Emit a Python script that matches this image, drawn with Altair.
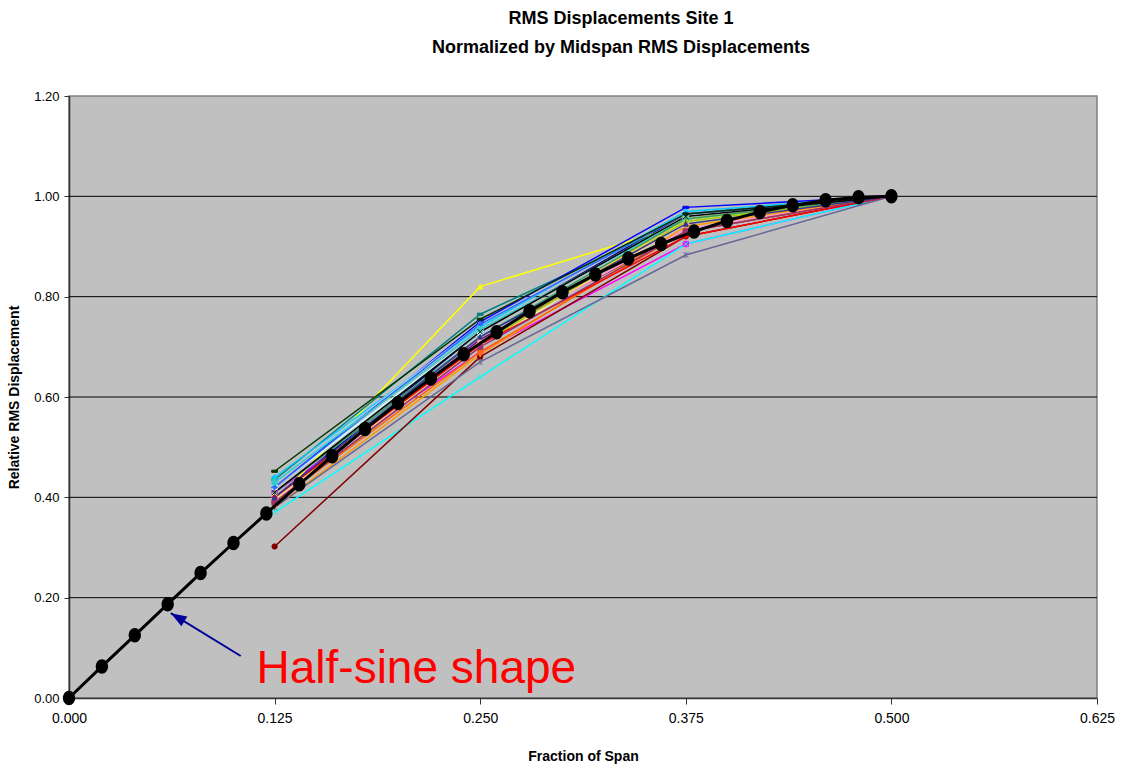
import altair as alt
import pandas as pd

# ---------------- data ----------------
x_positions = [0.125, 0.25, 0.375, 0.5]

series_names = [f"S{i+1}" for i in range(29)]
series_colors = ["#000080", "#FF00FF", "#FFFF00", "#00FFFF", "#800080", "#800000",
                 "#008080", "#0000FF", "#00CCFF", "#CCFFFF", "#CCFFCC", "#FFFF99",
                 "#99CCFF", "#FF99CC", "#CC99FF", "#FFCC99", "#3366FF", "#33CCCC",
                 "#99CC00", "#FFCC00", "#FF9900", "#FF6600", "#666699", "#003300",
                 "#339966", "#FF0000", "#993366", "#333399", "#000000"]
series_markers = ["diamond", "square", "triangle-up", "x", "circle", "circle",
                  "dash", "dash", "diamond", "square", "triangle-up", "x",
                  "star", "circle", "plus", "dash", "diamond", "square",
                  "triangle-up", "x", "triangle-down", "circle", "star", "dash",
                  "plus", "diamond", "square", "triangle-up", "x"]
series_values = [
    [0.400, 0.730, 0.965, 1.0],
    [0.410, 0.690, 0.905, 1.0],
    [0.390, 0.820, 0.945, 1.0],
    [0.370, 0.640, 0.905, 1.0],
    [0.390, 0.715, 0.930, 1.0],
    [0.302, 0.680, 0.920, 1.0],
    [0.435, 0.765, 0.955, 1.0],
    [0.420, 0.750, 0.978, 1.0],
    [0.440, 0.740, 0.970, 1.0],
    [0.420, 0.730, 0.960, 1.0],
    [0.410, 0.720, 0.955, 1.0],
    [0.400, 0.700, 0.950, 1.0],
    [0.430, 0.745, 0.965, 1.0],
    [0.400, 0.710, 0.935, 1.0],
    [0.390, 0.700, 0.930, 1.0],
    [0.395, 0.705, 0.945, 1.0],
    [0.420, 0.745, 0.965, 1.0],
    [0.430, 0.735, 0.955, 1.0],
    [0.400, 0.705, 0.950, 1.0],
    [0.400, 0.710, 0.955, 1.0],
    [0.380, 0.685, 0.940, 1.0],
    [0.390, 0.690, 0.930, 1.0],
    [0.380, 0.670, 0.883, 1.0],
    [0.452, 0.755, 0.965, 1.0],
    [0.410, 0.720, 0.955, 1.0],
    [0.400, 0.705, 0.920, 1.0],
    [0.390, 0.700, 0.930, 1.0],
    [0.400, 0.720, 0.945, 1.0],
    [0.410, 0.730, 0.960, 1.0],
]

sine_x = [0.00, 0.02, 0.04, 0.06, 0.08, 0.10, 0.12, 0.14, 0.16, 0.18, 0.20, 0.22, 0.24,
          0.26, 0.28, 0.30, 0.32, 0.34, 0.36, 0.38, 0.40, 0.42, 0.44, 0.46, 0.48, 0.50]
sine_y = [0.000, 0.063, 0.125, 0.187, 0.249, 0.309, 0.368, 0.426, 0.482, 0.536, 0.588,
          0.637, 0.685, 0.729, 0.771, 0.809, 0.844, 0.876, 0.905, 0.930, 0.951, 0.969,
          0.982, 0.992, 0.998, 1.000]

grid_y = [0.2, 0.4, 0.6, 0.8, 1.0]
x_ticks = [0.0, 0.125, 0.25, 0.375, 0.5, 0.625]
y_ticks = [0.0, 0.2, 0.4, 0.6, 0.8, 1.0, 1.2]

annotation_text = "Half-sine shape"
annotation_xy = [0.114, 0.03]
arrow_x = [0.1044, 0.0619]
arrow_y = [0.0837, 0.169]

# ---------------- styling ----------------
marker_paths = {
    "x": "M-1,-1L1,1M-1,1L1,-1",
    "star": "M-1,-1L1,1M-1,1L1,-1M0,-1.2L0,1.2",
    "plus": "M-1,0L1,0M0,-1L0,1",
    "dash": "M-1.1,-0.4L1.1,-0.4L1.1,0.4L-1.1,0.4Z",
}
shape_range = [marker_paths.get(m, m) for m in series_markers]

rows = []
for name, vals in zip(series_names, series_values):
    for xv, yv in zip(x_positions, vals):
        rows.append({"series": name, "x": xv, "y": yv})
df = pd.DataFrame(rows)
sine_df = pd.DataFrame({"x": sine_x, "y": sine_y})
grid_df = pd.DataFrame({"y": grid_y})
ann_df = pd.DataFrame({"x": [annotation_xy[0]], "y": [annotation_xy[1]], "t": [annotation_text]})
arrow_df = pd.DataFrame({"x": [arrow_x[0]], "y": [arrow_y[0]], "x2": [arrow_x[1]], "y2": [arrow_y[1]]})
tip_df = pd.DataFrame({"x": [arrow_x[1]], "y": [arrow_y[1]]})

SANS = "Liberation Sans, Arial, sans-serif"

xscale = alt.Scale(domain=[0, 0.625], nice=False, zero=False)
yscale = alt.Scale(domain=[0, 1.2], nice=False)
cscale = alt.Scale(domain=series_names, range=series_colors)
sscale = alt.Scale(domain=series_names, range=shape_range)

x_axis = alt.Axis(values=x_ticks, format=".3f", grid=False, tickSize=6, tickColor="#333333",
                  domainColor="#333333", domainWidth=1.5, labelFont=SANS, labelFontSize=14,
                  labelColor="black", labelPadding=7, labelFlush=False, labelOverlap=False,
                  title="Fraction of Span",
                  titleFont=SANS, titleFontSize=14, titleFontWeight="bold", titlePadding=24,
                  titleColor="black")
y_axis = alt.Axis(values=y_ticks, format=".2f", grid=False, tickSize=5, tickColor="#333333",
                  domainColor="#333333", domainWidth=1.5, labelFont=SANS, labelFontSize=13,
                  labelColor="black", labelPadding=5, labelFlush=False, labelOverlap=False,
                  title="Relative RMS Displacement",
                  titleFont=SANS, titleFontSize=14, titleFontWeight="bold", titlePadding=12,
                  titleColor="black")

grid = alt.Chart(grid_df).mark_rule(color="black", strokeWidth=1).encode(
    y=alt.Y("y:Q", scale=yscale, axis=y_axis)
)

lines = alt.Chart(df).mark_line(strokeWidth=1.5).encode(
    x=alt.X("x:Q", scale=xscale, axis=x_axis),
    y=alt.Y("y:Q", scale=yscale),
    color=alt.Color("series:N", scale=cscale, legend=None),
    order=alt.Order("x:Q"),
)

points = alt.Chart(df).mark_point(filled=True, size=28, strokeWidth=1, opacity=1).encode(
    x=alt.X("x:Q", scale=xscale),
    y=alt.Y("y:Q", scale=yscale),
    fill=alt.Fill("series:N", scale=cscale, legend=None),
    stroke=alt.Stroke("series:N", scale=cscale, legend=None),
    shape=alt.Shape("series:N", scale=sscale, legend=None),
)

sine_line = alt.Chart(sine_df).mark_line(color="black", strokeWidth=3).encode(
    x=alt.X("x:Q", scale=xscale), y=alt.Y("y:Q", scale=yscale)
)
sine_pts = alt.Chart(sine_df).mark_point(filled=True, color="black", size=210, opacity=1,
                                         shape="M-0.85,0A0.85,1,0,1,0,0.85,0A0.85,1,0,1,0,-0.85,0Z").encode(
    x=alt.X("x:Q", scale=xscale), y=alt.Y("y:Q", scale=yscale)
)

arrow_line = alt.Chart(arrow_df).mark_rule(color="#000099", strokeWidth=2).encode(
    x=alt.X("x:Q", scale=xscale), y=alt.Y("y:Q", scale=yscale), x2="x2:Q", y2="y2:Q"
)
arrow_tip = alt.Chart(tip_df).mark_point(filled=True, color="#000099", opacity=1, size=1000,
                                         shape="M0,0L-0.36,1L0.36,1Z", angle=301).encode(
    x=alt.X("x:Q", scale=xscale), y=alt.Y("y:Q", scale=yscale)
)
ann_text = alt.Chart(ann_df).mark_text(font=SANS, fontSize=46, color="#FF0000", align="left",
                                       baseline="alphabetic").encode(
    x=alt.X("x:Q", scale=xscale), y=alt.Y("y:Q", scale=yscale), text="t:N"
)

chart = alt.layer(
    grid, lines, points, sine_line, sine_pts, arrow_line, arrow_tip, ann_text
).properties(
    width=1028,
    height=602,
    background="white",
    title=alt.TitleParams(
        text=["RMS Displacements Site 1", "Normalized by Midspan RMS Displacements"],
        font=SANS, fontSize=18, fontWeight="bold", color="black", lineHeight=29,
        anchor="middle", frame="group", offset=33, dx=38,
    ),
    autosize=alt.AutoSizeParams(type="none"),
    padding={"left": 69, "top": 96, "right": 24, "bottom": 73},
).configure_view(
    fill="#C0C0C0", stroke="#808080", strokeWidth=1.5
)

chart.save("out.html", embed_options={"renderer": "svg", "actions": False})
